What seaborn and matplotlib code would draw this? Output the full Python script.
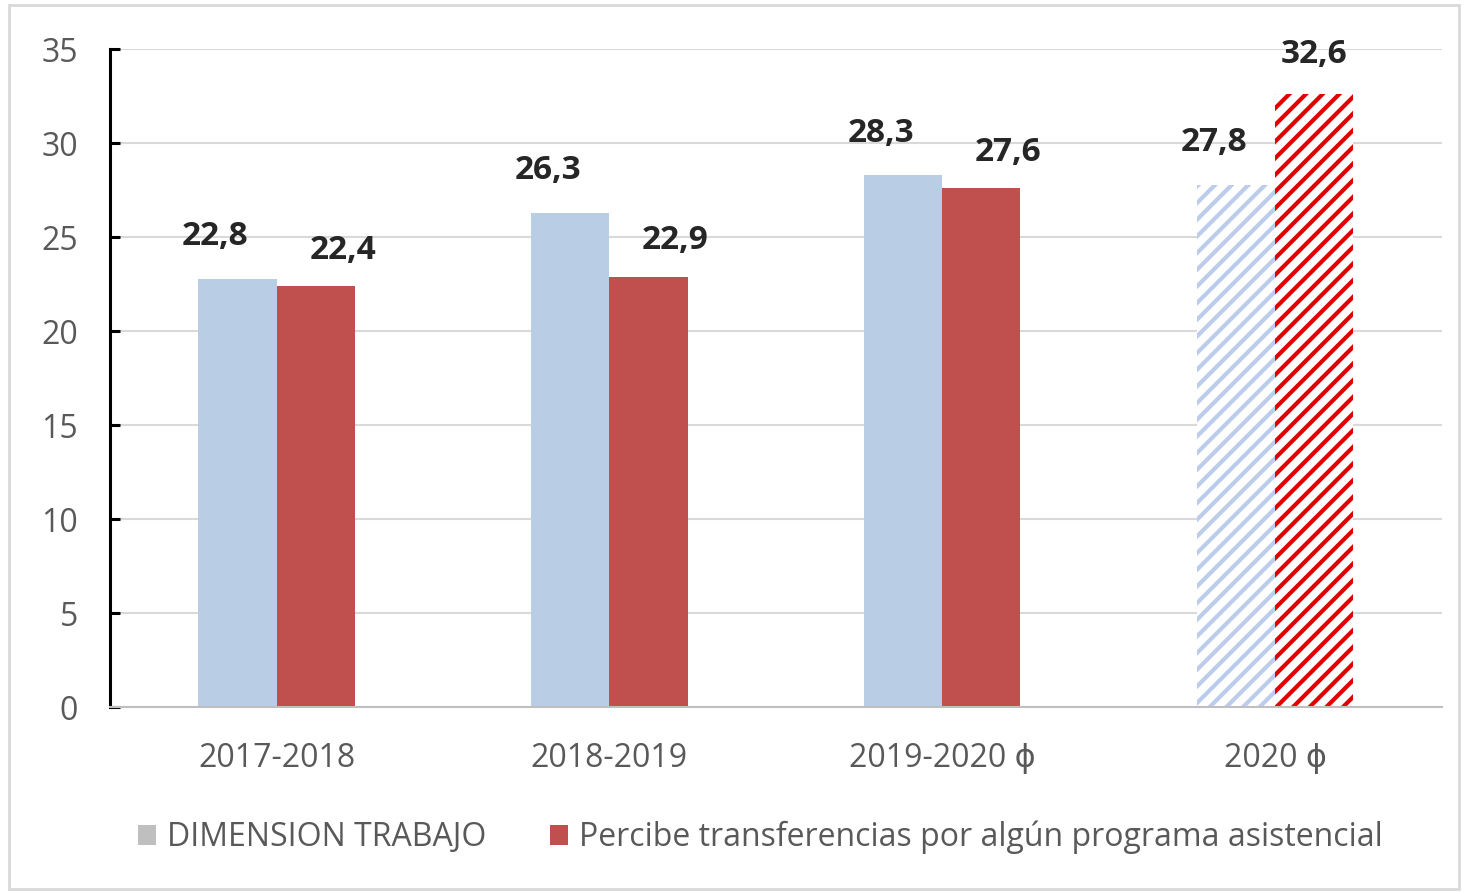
import matplotlib
matplotlib.use("Agg")
import matplotlib.pyplot as plt
import seaborn as sns
import pandas as pd
from matplotlib.patches import Patch, Rectangle

periods = ["2017-2018", "2018-2019", "2019-2020 ϕ", "2020 ϕ"]
series_names = ["DIMENSION TRABAJO", "Percibe transferencias por algún programa asistencial"]
trabajo = [22.8, 26.3, 28.3, 27.8]
transferencias = [22.4, 22.9, 27.6, 32.6]
labels_trabajo = ["22,8", "26,3", "28,3", "27,8"]
labels_transf = ["22,4", "22,9", "27,6", "32,6"]

sns.set_theme(style="white")
plt.rcParams["font.family"] = ["Open Sans", "DejaVu Sans"]
plt.rcParams["hatch.linewidth"] = 3.0

df = pd.DataFrame({
    "periodo": periods * 2,
    "serie": [series_names[0]] * 4 + [series_names[1]] * 4,
    "valor": trabajo + transferencias,
})

blue = "#B9CDE5"
red = "#C0504D"

fig = plt.figure(figsize=(14.68, 8.93), dpi=100)
ax = fig.add_axes([0.075, 0.208, 0.907, 0.737])

sns.barplot(data=df, x="periodo", y="valor", hue="serie", order=periods,
            hue_order=series_names, palette=[blue, red], width=0.47,
            saturation=1, ax=ax, legend=False, linewidth=0)

ax.set_ylim(0, 35)
ax.set_xlim(-0.5, 3.5)
ax.set_yticks(range(0, 36, 5))
ax.yaxis.grid(True, color="#D9D9D9", linewidth=1.5)
ax.set_axisbelow(True)
ax.set_xlabel("")
ax.set_ylabel("")

for s in ["top", "right"]:
    ax.spines[s].set_visible(False)
ax.spines["left"].set_color("black")
ax.spines["left"].set_linewidth(2.2)
ax.spines["bottom"].set_color("#BFBFBF")
ax.spines["bottom"].set_linewidth(1.5)
ax.tick_params(axis="y", direction="in", length=7, width=2.2, color="black",
               labelsize=23, labelcolor="#595959", pad=23, left=True)
ax.tick_params(axis="x", length=0, labelsize=23, labelcolor="#595959", pad=25)

bars_blue = ax.containers[0]
bars_red = ax.containers[1]

# hatched last group
hb = bars_blue[3]
hb.set_facecolor("white")
hb.set_edgecolor("#BCCDEB")
hb.set_linewidth(0)
hb.set_hatch("//")
hr = bars_red[3]
hr.set_facecolor("white")
hr.set_edgecolor("#E00000")
hr.set_linewidth(0)
hr.set_hatch("//")

for i, (b, lab) in enumerate(zip(bars_blue, labels_trabajo)):
    x = b.get_x() + b.get_width() / 2
    ax.annotate(lab, (x, b.get_height()), xytext=(-22, 42), textcoords="offset pixels",
                ha="center", va="center", fontsize=24, fontweight="bold", color="#262626")
for i, (b, lab) in enumerate(zip(bars_red, labels_transf)):
    x = b.get_x() + b.get_width() / 2
    dx, dy = (0, 40) if i == 3 else (27, 36)
    ax.annotate(lab, (x, b.get_height()), xytext=(dx, dy), textcoords="offset pixels",
                ha="center", va="center", fontsize=24, fontweight="bold", color="#262626")

handles = [Patch(facecolor="#BFBFBF", edgecolor="none"), Patch(facecolor=red, edgecolor="none")]
fig.legend(handles, series_names, loc="center", bbox_to_anchor=(0.518, 0.062), ncol=2,
           frameon=False, fontsize=23, labelcolor="#595959", handlelength=0.55,
           handleheight=0.55, handletextpad=0.35, columnspacing=2.0)

fig.patches.append(Rectangle((0.006, 0.004), 0.988, 0.99, transform=fig.transFigure,
                             fill=False, edgecolor="#D9D9D9", linewidth=2))

fig.savefig("out.png", dpi=100)
